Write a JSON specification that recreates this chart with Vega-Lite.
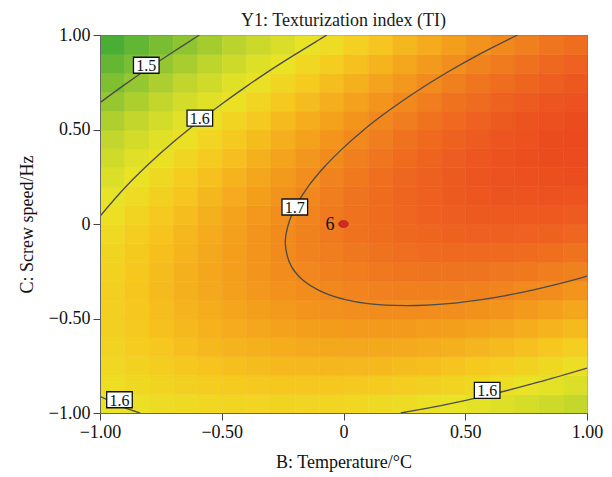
{
"$schema": "https://vega.github.io/schema/vega-lite/v6.json",
"width": 487, "height": 378,
"autosize": {"type": "none"},
"padding": {"left": 100, "top": 35, "right": 25, "bottom": 64},
"background": "white",
"title": {"text": "Y1: Texturization index (TI)", "font": "Liberation Serif", "fontSize": 18, "fontWeight": "normal", "color": "#1a1a1a", "offset": 5, "dy": 9, "anchor": "middle"},
"config": {
  "view": {"stroke": "#555", "strokeWidth": 1},
  "axis": {"labelFont": "Liberation Serif", "titleFont": "Liberation Serif", "labelFontSize": 18, "titleFontSize": 18, "titleFontWeight": "normal", "labelColor": "#111", "titleColor": "#111", "grid": false, "domainColor": "#666", "tickColor": "#444", "tickSize": 7, "labelOverlap": false, "labelFlush": false}
},
"datasets": {
"cells": [
{"B":-0.95,"C":-0.95,"TI":1.599},{"B":-0.85,"C":-0.95,"TI":1.606},{"B":-0.75,"C":-0.95,"TI":1.611},{"B":-0.65,"C":-0.95,"TI":1.615},{"B":-0.55,"C":-0.95,"TI":1.619},{"B":-0.45,"C":-0.95,"TI":1.621},{"B":-0.35,"C":-0.95,"TI":1.622},{"B":-0.25,"C":-0.95,"TI":1.623},{"B":-0.15,"C":-0.95,"TI":1.622},{"B":-0.05,"C":-0.95,"TI":1.621},{"B":0.05,"C":-0.95,"TI":1.619},{"B":0.15,"C":-0.95,"TI":1.615},{"B":0.25,"C":-0.95,"TI":1.611},{"B":0.35,"C":-0.95,"TI":1.606},{"B":0.45,"C":-0.95,"TI":1.599},{"B":0.55,"C":-0.95,"TI":1.592},{"B":0.65,"C":-0.95,"TI":1.584},{"B":0.75,"C":-0.95,"TI":1.575},{"B":0.85,"C":-0.95,"TI":1.565},{"B":0.95,"C":-0.95,"TI":1.554},
{"B":-0.95,"C":-0.85,"TI":1.610},{"B":-0.85,"C":-0.85,"TI":1.617},{"B":-0.75,"C":-0.85,"TI":1.623},{"B":-0.65,"C":-0.85,"TI":1.628},{"B":-0.55,"C":-0.85,"TI":1.633},{"B":-0.45,"C":-0.85,"TI":1.636},{"B":-0.35,"C":-0.85,"TI":1.638},{"B":-0.25,"C":-0.85,"TI":1.640},{"B":-0.15,"C":-0.85,"TI":1.640},{"B":-0.05,"C":-0.85,"TI":1.640},{"B":0.05,"C":-0.85,"TI":1.638},{"B":0.15,"C":-0.85,"TI":1.636},{"B":0.25,"C":-0.85,"TI":1.633},{"B":0.35,"C":-0.85,"TI":1.628},{"B":0.45,"C":-0.85,"TI":1.623},{"B":0.55,"C":-0.85,"TI":1.617},{"B":0.65,"C":-0.85,"TI":1.609},{"B":0.75,"C":-0.85,"TI":1.601},{"B":0.85,"C":-0.85,"TI":1.592},{"B":0.95,"C":-0.85,"TI":1.582},
{"B":-0.95,"C":-0.75,"TI":1.618},{"B":-0.85,"C":-0.75,"TI":1.626},{"B":-0.75,"C":-0.75,"TI":1.633},{"B":-0.65,"C":-0.75,"TI":1.640},{"B":-0.55,"C":-0.75,"TI":1.645},{"B":-0.45,"C":-0.75,"TI":1.649},{"B":-0.35,"C":-0.75,"TI":1.652},{"B":-0.25,"C":-0.75,"TI":1.655},{"B":-0.15,"C":-0.75,"TI":1.656},{"B":-0.05,"C":-0.75,"TI":1.657},{"B":0.05,"C":-0.75,"TI":1.656},{"B":0.15,"C":-0.75,"TI":1.655},{"B":0.25,"C":-0.75,"TI":1.652},{"B":0.35,"C":-0.75,"TI":1.649},{"B":0.45,"C":-0.75,"TI":1.644},{"B":0.55,"C":-0.75,"TI":1.639},{"B":0.65,"C":-0.75,"TI":1.633},{"B":0.75,"C":-0.75,"TI":1.625},{"B":0.85,"C":-0.75,"TI":1.617},{"B":0.95,"C":-0.75,"TI":1.608},
{"B":-0.95,"C":-0.65,"TI":1.624},{"B":-0.85,"C":-0.65,"TI":1.633},{"B":-0.75,"C":-0.65,"TI":1.641},{"B":-0.65,"C":-0.65,"TI":1.649},{"B":-0.55,"C":-0.65,"TI":1.655},{"B":-0.45,"C":-0.65,"TI":1.660},{"B":-0.35,"C":-0.65,"TI":1.664},{"B":-0.25,"C":-0.65,"TI":1.667},{"B":-0.15,"C":-0.65,"TI":1.670},{"B":-0.05,"C":-0.65,"TI":1.671},{"B":0.05,"C":-0.65,"TI":1.672},{"B":0.15,"C":-0.65,"TI":1.671},{"B":0.25,"C":-0.65,"TI":1.670},{"B":0.35,"C":-0.65,"TI":1.667},{"B":0.45,"C":-0.65,"TI":1.664},{"B":0.55,"C":-0.65,"TI":1.659},{"B":0.65,"C":-0.65,"TI":1.654},{"B":0.75,"C":-0.65,"TI":1.648},{"B":0.85,"C":-0.65,"TI":1.640},{"B":0.95,"C":-0.65,"TI":1.632},
{"B":-0.95,"C":-0.55,"TI":1.628},{"B":-0.85,"C":-0.55,"TI":1.638},{"B":-0.75,"C":-0.55,"TI":1.647},{"B":-0.65,"C":-0.55,"TI":1.655},{"B":-0.55,"C":-0.55,"TI":1.662},{"B":-0.45,"C":-0.55,"TI":1.669},{"B":-0.35,"C":-0.55,"TI":1.674},{"B":-0.25,"C":-0.55,"TI":1.678},{"B":-0.15,"C":-0.55,"TI":1.681},{"B":-0.05,"C":-0.55,"TI":1.684},{"B":0.05,"C":-0.55,"TI":1.685},{"B":0.15,"C":-0.55,"TI":1.685},{"B":0.25,"C":-0.55,"TI":1.685},{"B":0.35,"C":-0.55,"TI":1.683},{"B":0.45,"C":-0.55,"TI":1.681},{"B":0.55,"C":-0.55,"TI":1.677},{"B":0.65,"C":-0.55,"TI":1.673},{"B":0.75,"C":-0.55,"TI":1.668},{"B":0.85,"C":-0.55,"TI":1.661},{"B":0.95,"C":-0.55,"TI":1.654},
{"B":-0.95,"C":-0.45,"TI":1.630},{"B":-0.85,"C":-0.45,"TI":1.641},{"B":-0.75,"C":-0.45,"TI":1.651},{"B":-0.65,"C":-0.45,"TI":1.660},{"B":-0.55,"C":-0.45,"TI":1.668},{"B":-0.45,"C":-0.45,"TI":1.675},{"B":-0.35,"C":-0.45,"TI":1.681},{"B":-0.25,"C":-0.45,"TI":1.686},{"B":-0.15,"C":-0.45,"TI":1.691},{"B":-0.05,"C":-0.45,"TI":1.694},{"B":0.05,"C":-0.45,"TI":1.696},{"B":0.15,"C":-0.45,"TI":1.698},{"B":0.25,"C":-0.45,"TI":1.698},{"B":0.35,"C":-0.45,"TI":1.697},{"B":0.45,"C":-0.45,"TI":1.696},{"B":0.55,"C":-0.45,"TI":1.693},{"B":0.65,"C":-0.45,"TI":1.690},{"B":0.75,"C":-0.45,"TI":1.685},{"B":0.85,"C":-0.45,"TI":1.680},{"B":0.95,"C":-0.45,"TI":1.674},
{"B":-0.95,"C":-0.35,"TI":1.630},{"B":-0.85,"C":-0.35,"TI":1.642},{"B":-0.75,"C":-0.35,"TI":1.653},{"B":-0.65,"C":-0.35,"TI":1.663},{"B":-0.55,"C":-0.35,"TI":1.672},{"B":-0.45,"C":-0.35,"TI":1.680},{"B":-0.35,"C":-0.35,"TI":1.687},{"B":-0.25,"C":-0.35,"TI":1.693},{"B":-0.15,"C":-0.35,"TI":1.698},{"B":-0.05,"C":-0.35,"TI":1.702},{"B":0.05,"C":-0.35,"TI":1.705},{"B":0.15,"C":-0.35,"TI":1.708},{"B":0.25,"C":-0.35,"TI":1.709},{"B":0.35,"C":-0.35,"TI":1.709},{"B":0.45,"C":-0.35,"TI":1.709},{"B":0.55,"C":-0.35,"TI":1.707},{"B":0.65,"C":-0.35,"TI":1.705},{"B":0.75,"C":-0.35,"TI":1.701},{"B":0.85,"C":-0.35,"TI":1.697},{"B":0.95,"C":-0.35,"TI":1.691},
{"B":-0.95,"C":-0.25,"TI":1.627},{"B":-0.85,"C":-0.25,"TI":1.640},{"B":-0.75,"C":-0.25,"TI":1.652},{"B":-0.65,"C":-0.25,"TI":1.663},{"B":-0.55,"C":-0.25,"TI":1.673},{"B":-0.45,"C":-0.25,"TI":1.682},{"B":-0.35,"C":-0.25,"TI":1.690},{"B":-0.25,"C":-0.25,"TI":1.697},{"B":-0.15,"C":-0.25,"TI":1.703},{"B":-0.05,"C":-0.25,"TI":1.708},{"B":0.05,"C":-0.25,"TI":1.712},{"B":0.15,"C":-0.25,"TI":1.716},{"B":0.25,"C":-0.25,"TI":1.718},{"B":0.35,"C":-0.25,"TI":1.719},{"B":0.45,"C":-0.25,"TI":1.719},{"B":0.55,"C":-0.25,"TI":1.719},{"B":0.65,"C":-0.25,"TI":1.717},{"B":0.75,"C":-0.25,"TI":1.715},{"B":0.85,"C":-0.25,"TI":1.711},{"B":0.95,"C":-0.25,"TI":1.707},
{"B":-0.95,"C":-0.15,"TI":1.623},{"B":-0.85,"C":-0.15,"TI":1.637},{"B":-0.75,"C":-0.15,"TI":1.649},{"B":-0.65,"C":-0.15,"TI":1.661},{"B":-0.55,"C":-0.15,"TI":1.672},{"B":-0.45,"C":-0.15,"TI":1.682},{"B":-0.35,"C":-0.15,"TI":1.691},{"B":-0.25,"C":-0.15,"TI":1.699},{"B":-0.15,"C":-0.15,"TI":1.706},{"B":-0.05,"C":-0.15,"TI":1.712},{"B":0.05,"C":-0.15,"TI":1.717},{"B":0.15,"C":-0.15,"TI":1.721},{"B":0.25,"C":-0.15,"TI":1.724},{"B":0.35,"C":-0.15,"TI":1.727},{"B":0.45,"C":-0.15,"TI":1.728},{"B":0.55,"C":-0.15,"TI":1.728},{"B":0.65,"C":-0.15,"TI":1.728},{"B":0.75,"C":-0.15,"TI":1.726},{"B":0.85,"C":-0.15,"TI":1.723},{"B":0.95,"C":-0.15,"TI":1.720},
{"B":-0.95,"C":-0.05,"TI":1.616},{"B":-0.85,"C":-0.05,"TI":1.631},{"B":-0.75,"C":-0.05,"TI":1.645},{"B":-0.65,"C":-0.05,"TI":1.657},{"B":-0.55,"C":-0.05,"TI":1.669},{"B":-0.45,"C":-0.05,"TI":1.680},{"B":-0.35,"C":-0.05,"TI":1.690},{"B":-0.25,"C":-0.05,"TI":1.699},{"B":-0.15,"C":-0.05,"TI":1.707},{"B":-0.05,"C":-0.05,"TI":1.714},{"B":0.05,"C":-0.05,"TI":1.720},{"B":0.15,"C":-0.05,"TI":1.725},{"B":0.25,"C":-0.05,"TI":1.729},{"B":0.35,"C":-0.05,"TI":1.732},{"B":0.45,"C":-0.05,"TI":1.734},{"B":0.55,"C":-0.05,"TI":1.736},{"B":0.65,"C":-0.05,"TI":1.736},{"B":0.75,"C":-0.05,"TI":1.735},{"B":0.85,"C":-0.05,"TI":1.734},{"B":0.95,"C":-0.05,"TI":1.731},
{"B":-0.95,"C":0.05,"TI":1.607},{"B":-0.85,"C":0.05,"TI":1.623},{"B":-0.75,"C":0.05,"TI":1.638},{"B":-0.65,"C":0.05,"TI":1.651},{"B":-0.55,"C":0.05,"TI":1.664},{"B":-0.45,"C":0.05,"TI":1.676},{"B":-0.35,"C":0.05,"TI":1.687},{"B":-0.25,"C":0.05,"TI":1.696},{"B":-0.15,"C":0.05,"TI":1.705},{"B":-0.05,"C":0.05,"TI":1.713},{"B":0.05,"C":0.05,"TI":1.720},{"B":0.15,"C":0.05,"TI":1.726},{"B":0.25,"C":0.05,"TI":1.731},{"B":0.35,"C":0.05,"TI":1.736},{"B":0.45,"C":0.05,"TI":1.739},{"B":0.55,"C":0.05,"TI":1.741},{"B":0.65,"C":0.05,"TI":1.742},{"B":0.75,"C":0.05,"TI":1.742},{"B":0.85,"C":0.05,"TI":1.742},{"B":0.95,"C":0.05,"TI":1.740},
{"B":-0.95,"C":0.15,"TI":1.596},{"B":-0.85,"C":0.15,"TI":1.613},{"B":-0.75,"C":0.15,"TI":1.628},{"B":-0.65,"C":0.15,"TI":1.643},{"B":-0.55,"C":0.15,"TI":1.657},{"B":-0.45,"C":0.15,"TI":1.669},{"B":-0.35,"C":0.15,"TI":1.681},{"B":-0.25,"C":0.15,"TI":1.692},{"B":-0.15,"C":0.15,"TI":1.702},{"B":-0.05,"C":0.15,"TI":1.711},{"B":0.05,"C":0.15,"TI":1.719},{"B":0.15,"C":0.15,"TI":1.726},{"B":0.25,"C":0.15,"TI":1.732},{"B":0.35,"C":0.15,"TI":1.737},{"B":0.45,"C":0.15,"TI":1.741},{"B":0.55,"C":0.15,"TI":1.744},{"B":0.65,"C":0.15,"TI":1.746},{"B":0.75,"C":0.15,"TI":1.747},{"B":0.85,"C":0.15,"TI":1.748},{"B":0.95,"C":0.15,"TI":1.747},
{"B":-0.95,"C":0.25,"TI":1.583},{"B":-0.85,"C":0.25,"TI":1.601},{"B":-0.75,"C":0.25,"TI":1.617},{"B":-0.65,"C":0.25,"TI":1.633},{"B":-0.55,"C":0.25,"TI":1.647},{"B":-0.45,"C":0.25,"TI":1.661},{"B":-0.35,"C":0.25,"TI":1.674},{"B":-0.25,"C":0.25,"TI":1.686},{"B":-0.15,"C":0.25,"TI":1.696},{"B":-0.05,"C":0.25,"TI":1.706},{"B":0.05,"C":0.25,"TI":1.715},{"B":0.15,"C":0.25,"TI":1.723},{"B":0.25,"C":0.25,"TI":1.730},{"B":0.35,"C":0.25,"TI":1.736},{"B":0.45,"C":0.25,"TI":1.741},{"B":0.55,"C":0.25,"TI":1.745},{"B":0.65,"C":0.25,"TI":1.748},{"B":0.75,"C":0.25,"TI":1.750},{"B":0.85,"C":0.25,"TI":1.751},{"B":0.95,"C":0.25,"TI":1.752},
{"B":-0.95,"C":0.35,"TI":1.568},{"B":-0.85,"C":0.35,"TI":1.586},{"B":-0.75,"C":0.35,"TI":1.604},{"B":-0.65,"C":0.35,"TI":1.620},{"B":-0.55,"C":0.35,"TI":1.636},{"B":-0.45,"C":0.35,"TI":1.650},{"B":-0.35,"C":0.35,"TI":1.664},{"B":-0.25,"C":0.35,"TI":1.677},{"B":-0.15,"C":0.35,"TI":1.689},{"B":-0.05,"C":0.35,"TI":1.699},{"B":0.05,"C":0.35,"TI":1.709},{"B":0.15,"C":0.35,"TI":1.718},{"B":0.25,"C":0.35,"TI":1.726},{"B":0.35,"C":0.35,"TI":1.733},{"B":0.45,"C":0.35,"TI":1.739},{"B":0.55,"C":0.35,"TI":1.744},{"B":0.65,"C":0.35,"TI":1.748},{"B":0.75,"C":0.35,"TI":1.751},{"B":0.85,"C":0.35,"TI":1.753},{"B":0.95,"C":0.35,"TI":1.754},
{"B":-0.95,"C":0.45,"TI":1.550},{"B":-0.85,"C":0.45,"TI":1.570},{"B":-0.75,"C":0.45,"TI":1.588},{"B":-0.65,"C":0.45,"TI":1.606},{"B":-0.55,"C":0.45,"TI":1.622},{"B":-0.45,"C":0.45,"TI":1.638},{"B":-0.35,"C":0.45,"TI":1.652},{"B":-0.25,"C":0.45,"TI":1.666},{"B":-0.15,"C":0.45,"TI":1.679},{"B":-0.05,"C":0.45,"TI":1.690},{"B":0.05,"C":0.45,"TI":1.701},{"B":0.15,"C":0.45,"TI":1.711},{"B":0.25,"C":0.45,"TI":1.720},{"B":0.35,"C":0.45,"TI":1.728},{"B":0.45,"C":0.45,"TI":1.734},{"B":0.55,"C":0.45,"TI":1.740},{"B":0.65,"C":0.45,"TI":1.745},{"B":0.75,"C":0.45,"TI":1.749},{"B":0.85,"C":0.45,"TI":1.753},{"B":0.95,"C":0.45,"TI":1.755},
{"B":-0.95,"C":0.55,"TI":1.531},{"B":-0.85,"C":0.55,"TI":1.551},{"B":-0.75,"C":0.55,"TI":1.571},{"B":-0.65,"C":0.55,"TI":1.589},{"B":-0.55,"C":0.55,"TI":1.606},{"B":-0.45,"C":0.55,"TI":1.623},{"B":-0.35,"C":0.55,"TI":1.638},{"B":-0.25,"C":0.55,"TI":1.653},{"B":-0.15,"C":0.55,"TI":1.667},{"B":-0.05,"C":0.55,"TI":1.679},{"B":0.05,"C":0.55,"TI":1.691},{"B":0.15,"C":0.55,"TI":1.702},{"B":0.25,"C":0.55,"TI":1.711},{"B":0.35,"C":0.55,"TI":1.720},{"B":0.45,"C":0.55,"TI":1.728},{"B":0.55,"C":0.55,"TI":1.735},{"B":0.65,"C":0.55,"TI":1.741},{"B":0.75,"C":0.55,"TI":1.746},{"B":0.85,"C":0.55,"TI":1.750},{"B":0.95,"C":0.55,"TI":1.753},
{"B":-0.95,"C":0.65,"TI":1.509},{"B":-0.85,"C":0.65,"TI":1.530},{"B":-0.75,"C":0.65,"TI":1.551},{"B":-0.65,"C":0.65,"TI":1.570},{"B":-0.55,"C":0.65,"TI":1.588},{"B":-0.45,"C":0.65,"TI":1.606},{"B":-0.35,"C":0.65,"TI":1.622},{"B":-0.25,"C":0.65,"TI":1.638},{"B":-0.15,"C":0.65,"TI":1.652},{"B":-0.05,"C":0.65,"TI":1.666},{"B":0.05,"C":0.65,"TI":1.679},{"B":0.15,"C":0.65,"TI":1.690},{"B":0.25,"C":0.65,"TI":1.701},{"B":0.35,"C":0.65,"TI":1.711},{"B":0.45,"C":0.65,"TI":1.720},{"B":0.55,"C":0.65,"TI":1.727},{"B":0.65,"C":0.65,"TI":1.734},{"B":0.75,"C":0.65,"TI":1.740},{"B":0.85,"C":0.65,"TI":1.745},{"B":0.95,"C":0.65,"TI":1.749},
{"B":-0.95,"C":0.75,"TI":1.485},{"B":-0.85,"C":0.75,"TI":1.507},{"B":-0.75,"C":0.75,"TI":1.529},{"B":-0.65,"C":0.75,"TI":1.549},{"B":-0.55,"C":0.75,"TI":1.568},{"B":-0.45,"C":0.75,"TI":1.587},{"B":-0.35,"C":0.75,"TI":1.604},{"B":-0.25,"C":0.75,"TI":1.621},{"B":-0.15,"C":0.75,"TI":1.636},{"B":-0.05,"C":0.75,"TI":1.651},{"B":0.05,"C":0.75,"TI":1.664},{"B":0.15,"C":0.75,"TI":1.677},{"B":0.25,"C":0.75,"TI":1.688},{"B":0.35,"C":0.75,"TI":1.699},{"B":0.45,"C":0.75,"TI":1.709},{"B":0.55,"C":0.75,"TI":1.718},{"B":0.65,"C":0.75,"TI":1.725},{"B":0.75,"C":0.75,"TI":1.732},{"B":0.85,"C":0.75,"TI":1.738},{"B":0.95,"C":0.75,"TI":1.743},
{"B":-0.95,"C":0.85,"TI":1.459},{"B":-0.85,"C":0.85,"TI":1.482},{"B":-0.75,"C":0.85,"TI":1.505},{"B":-0.65,"C":0.85,"TI":1.526},{"B":-0.55,"C":0.85,"TI":1.546},{"B":-0.45,"C":0.85,"TI":1.565},{"B":-0.35,"C":0.85,"TI":1.584},{"B":-0.25,"C":0.85,"TI":1.601},{"B":-0.15,"C":0.85,"TI":1.618},{"B":-0.05,"C":0.85,"TI":1.633},{"B":0.05,"C":0.85,"TI":1.648},{"B":0.15,"C":0.85,"TI":1.661},{"B":0.25,"C":0.85,"TI":1.674},{"B":0.35,"C":0.85,"TI":1.685},{"B":0.45,"C":0.85,"TI":1.696},{"B":0.55,"C":0.85,"TI":1.706},{"B":0.65,"C":0.85,"TI":1.714},{"B":0.75,"C":0.85,"TI":1.722},{"B":0.85,"C":0.85,"TI":1.729},{"B":0.95,"C":0.85,"TI":1.735},
{"B":-0.95,"C":0.95,"TI":1.431},{"B":-0.85,"C":0.95,"TI":1.455},{"B":-0.75,"C":0.95,"TI":1.478},{"B":-0.65,"C":0.95,"TI":1.501},{"B":-0.55,"C":0.95,"TI":1.522},{"B":-0.45,"C":0.95,"TI":1.542},{"B":-0.35,"C":0.95,"TI":1.561},{"B":-0.25,"C":0.95,"TI":1.580},{"B":-0.15,"C":0.95,"TI":1.597},{"B":-0.05,"C":0.95,"TI":1.613},{"B":0.05,"C":0.95,"TI":1.629},{"B":0.15,"C":0.95,"TI":1.643},{"B":0.25,"C":0.95,"TI":1.657},{"B":0.35,"C":0.95,"TI":1.669},{"B":0.45,"C":0.95,"TI":1.681},{"B":0.55,"C":0.95,"TI":1.692},{"B":0.65,"C":0.95,"TI":1.701},{"B":0.75,"C":0.95,"TI":1.710},{"B":0.85,"C":0.95,"TI":1.718},{"B":0.95,"C":0.95,"TI":1.725}
],
"contours": [
{"seg":"a","i":0,"B":-1,"C":0.642},{"seg":"a","i":1,"B":-0.9,"C":0.736},{"seg":"a","i":2,"B":-0.8,"C":0.825},{"seg":"a","i":3,"B":-0.7,"C":0.91},{"seg":"a","i":4,"B":-0.6,"C":0.993},{"seg":"a","i":5,"B":-0.592,"C":1.0},
{"seg":"b","i":0,"B":-1,"C":0.041},{"seg":"b","i":1,"B":-0.9,"C":0.189},{"seg":"b","i":2,"B":-0.8,"C":0.317},{"seg":"b","i":3,"B":-0.7,"C":0.432},{"seg":"b","i":4,"B":-0.6,"C":0.537},{"seg":"b","i":5,"B":-0.5,"C":0.635},{"seg":"b","i":6,"B":-0.4,"C":0.727},{"seg":"b","i":7,"B":-0.3,"C":0.814},{"seg":"b","i":8,"B":-0.2,"C":0.896},{"seg":"b","i":9,"B":-0.1,"C":0.975},{"seg":"b","i":10,"B":-0.068,"C":1.0},
{"seg":"c","i":0,"B":-1,"C":-0.912},{"seg":"c","i":1,"B":-0.9,"C":-0.972},{"seg":"c","i":2,"B":-0.835,"C":-1.0},
{"seg":"d","i":0,"B":0.235,"C":-1.0},{"seg":"d","i":1,"B":0.3,"C":-0.985},{"seg":"d","i":2,"B":0.4,"C":-0.961},{"seg":"d","i":3,"B":0.6,"C":-0.904},{"seg":"d","i":4,"B":0.8,"C":-0.837},{"seg":"d","i":5,"B":1.0,"C":-0.762},
{"seg":"e","i":0,"B":0.715,"C":1.0},{"seg":"e","i":1,"B":0.561,"C":0.9},{"seg":"e","i":2,"B":0.423,"C":0.8},{"seg":"e","i":3,"B":0.298,"C":0.7},{"seg":"e","i":4,"B":0.186,"C":0.6},{"seg":"e","i":5,"B":0.085,"C":0.5},{"seg":"e","i":6,"B":-0.003,"C":0.4},{"seg":"e","i":7,"B":-0.08,"C":0.3},{"seg":"e","i":8,"B":-0.144,"C":0.2},{"seg":"e","i":9,"B":-0.193,"C":0.1},{"seg":"e","i":10,"B":-0.226,"C":0.0},{"seg":"e","i":11,"B":-0.239,"C":-0.1},{"seg":"e","i":12,"B":-0.223,"C":-0.2},{"seg":"e","i":13,"B":-0.201,"C":-0.25},{"seg":"e","i":14,"B":-0.164,"C":-0.3},{"seg":"e","i":15,"B":-0.103,"C":-0.35},{"seg":"e","i":16,"B":-0.046,"C":-0.38},{"seg":"e","i":17,"B":0.008,"C":-0.4},{"seg":"e","i":18,"B":0.093,"C":-0.42},{"seg":"e","i":19,"B":0.256,"C":-0.432},{"seg":"e","i":20,"B":0.442,"C":-0.42},{"seg":"e","i":21,"B":0.567,"C":-0.4},{"seg":"e","i":22,"B":0.66,"C":-0.38},{"seg":"e","i":23,"B":0.776,"C":-0.35},{"seg":"e","i":24,"B":0.935,"C":-0.3},{"seg":"e","i":25,"B":1.0,"C":-0.276}
],
"labels": [
{"lab":"1.5","B":-0.81,"C":0.84},{"lab":"1.6","B":-0.59,"C":0.56},{"lab":"1.7","B":-0.2,"C":0.09},{"lab":"1.6","B":-0.92,"C":-0.93},{"lab":"1.6","B":0.59,"C":-0.88}
],
"center": [{"B":0,"C":0,"n":"6"}]
},
"layer": [
{
"data": {"name": "cells"},
"mark": {"type": "rect", "strokeWidth": 0.6},
"encoding": {
"x": {"field": "B", "type": "quantitative", "bin": {"step": 0.1, "extent": [-1, 1]}, "scale": {"domain": [-1, 1], "nice": false, "zero": false}, "title": "B: Temperature/°C", "axis": {"values": [-1, -0.5, 0, 0.5, 1], "labelExpr": "datum.value == 0 ? '0' : format(datum.value, '.2f')", "titlePadding": 12, "labelPadding": 3}},
"y": {"field": "C", "type": "quantitative", "bin": {"step": 0.1, "extent": [-1, 1]}, "scale": {"domain": [-1, 1], "nice": false, "zero": false}, "title": "C: Screw speed/Hz", "axis": {"values": [-1, -0.5, 0, 0.5, 1], "labelExpr": "datum.value == 0 ? '0' : format(datum.value, '.2f')", "titlePadding": 12, "labelPadding": 3}},
"color": {"field": "TI", "type": "quantitative", "legend": null, "scale": {"domain": [1.43, 1.45, 1.5, 1.55, 1.6, 1.64, 1.68, 1.71, 1.735, 1.755], "range": ["#4aae34", "#5cb433", "#8ec431", "#c2d62c", "#eae425", "#f6c81f", "#f4a01c", "#f07f1e", "#ee6120", "#eb4a1e"], "interpolate": "rgb", "clamp": true}},
"stroke": {"field": "TI", "type": "quantitative", "legend": null, "scale": {"domain": [1.43, 1.45, 1.5, 1.55, 1.6, 1.64, 1.68, 1.71, 1.735, 1.755], "range": ["#4aae34", "#5cb433", "#8ec431", "#c2d62c", "#eae425", "#f6c81f", "#f4a01c", "#f07f1e", "#ee6120", "#eb4a1e"], "interpolate": "rgb", "clamp": true}}
}
},
{
"data": {"name": "contours"},
"mark": {"type": "line", "interpolate": "catmull-rom", "stroke": "#4a4a4a", "strokeWidth": 1.3, "clip": true},
"encoding": {
"x": {"field": "B", "type": "quantitative", "title": "B: Temperature/°C"},
"y": {"field": "C", "type": "quantitative", "title": "C: Screw speed/Hz"},
"detail": {"field": "seg"},
"order": {"field": "i", "type": "quantitative"}
}
},
{
"data": {"name": "labels"},
"mark": {"type": "point", "shape": "M-1.6,-1H1.6V1H-1.6Z", "size": 256, "filled": true, "fill": "white", "stroke": "#111", "strokeWidth": 1.3, "opacity": 1},
"encoding": {
"x": {"field": "B", "type": "quantitative", "title": "B: Temperature/°C"},
"y": {"field": "C", "type": "quantitative", "title": "C: Screw speed/Hz"}
}
},
{
"data": {"name": "labels"},
"mark": {"type": "text", "font": "Liberation Serif", "fontSize": 16, "color": "#111", "baseline": "middle", "align": "center", "dy": 1},
"encoding": {
"x": {"field": "B", "type": "quantitative", "title": "B: Temperature/°C"},
"y": {"field": "C", "type": "quantitative", "title": "C: Screw speed/Hz"},
"text": {"field": "lab"}
}
},
{
"data": {"name": "center"},
"mark": {"type": "point", "shape": "M-1.4,0A1.4,1,0,1,0,1.4,0A1.4,1,0,1,0,-1.4,0Z", "size": 49, "filled": true, "fill": "#d42828", "stroke": "#a01818", "strokeWidth": 0.6, "opacity": 1},
"encoding": {
"x": {"field": "B", "type": "quantitative", "title": "B: Temperature/°C"},
"y": {"field": "C", "type": "quantitative", "title": "C: Screw speed/Hz"}
}
},
{
"data": {"name": "center"},
"mark": {"type": "text", "font": "Liberation Serif", "fontSize": 18, "color": "#111", "baseline": "middle", "align": "right", "dx": -9, "dy": 1},
"encoding": {
"x": {"field": "B", "type": "quantitative", "title": "B: Temperature/°C"},
"y": {"field": "C", "type": "quantitative", "title": "C: Screw speed/Hz"},
"text": {"field": "n"}
}
}
]
}
